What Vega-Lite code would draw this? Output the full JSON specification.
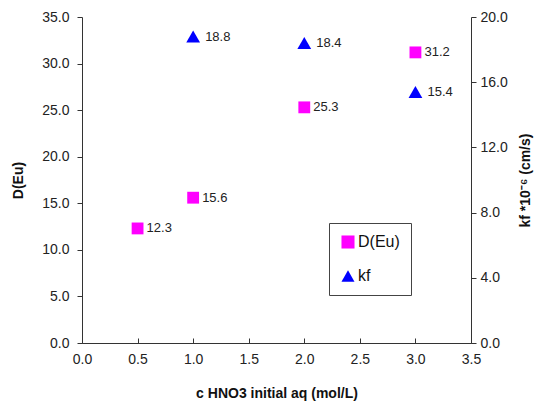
{
  "$schema": "https://vega.github.io/schema/vega-lite/v6.json",
  "width": 389,
  "height": 326,
  "autosize": "none",
  "padding": {"left": 82, "top": 17, "right": 69, "bottom": 62},
  "background": "white",
  "config": {
    "view": {"stroke": null},
    "font": "Liberation Sans",
    "axis": {"grid": false, "domainColor": "#333", "tickColor": "#333", "labelColor": "#222", "labelFontSize": 14, "titleFontSize": 14, "titleFontWeight": "bold", "titleColor": "#111", "labelFont": "Liberation Sans", "titleFont": "Liberation Sans"}
  },
  "data": {
    "values": [
      {"c": 0.5, "value": 12.3, "series": "D(Eu)"},
      {"c": 1.0, "value": 15.6, "series": "D(Eu)"},
      {"c": 2.0, "value": 25.3, "series": "D(Eu)"},
      {"c": 3.0, "value": 31.2, "series": "D(Eu)"},
      {"c": 1.0, "value": 18.8, "series": "kf"},
      {"c": 2.0, "value": 18.4, "series": "kf"},
      {"c": 3.0, "value": 15.4, "series": "kf"}
    ]
  },
  "encoding": {
    "x": {"field": "c", "type": "quantitative", "scale": {"domain": [0, 3.5], "nice": false, "zero": false},
      "axis": {"title": "c HNO3 initial aq (mol/L)", "values": [0, 0.5, 1, 1.5, 2, 2.5, 3, 3.5], "format": ".1f", "tickSize": -5, "labelPadding": 14, "titlePadding": 20, "labelFlush": false}}
  },
  "layer": [
    {
      "transform": [{"filter": "datum.series == 'D(Eu)'"}],
      "encoding": {
        "y": {"field": "value", "type": "quantitative", "scale": {"domain": [0, 35], "nice": false},
          "axis": {"orient": "left", "title": "D(Eu)", "values": [0, 5, 10, 15, 20, 25, 30, 35], "format": ".1f", "tickSize": 5, "labelPadding": 8, "titlePadding": 16}}
      },
      "layer": [
        {"mark": {"type": "point", "filled": true, "opacity": 1, "size": 140},
          "encoding": {
            "color": {"field": "series", "type": "nominal", "scale": {"domain": ["D(Eu)", "kf"], "range": ["#FF00FF", "#0000FF"]},
              "legend": {"title": null, "orient": "none", "legendX": 247, "legendY": 206, "strokeColor": "#444", "padding": 11, "labelFontSize": 16, "labelColor": "#111", "symbolSize": 170, "rowPadding": 18, "labelOffset": 2, "symbolOpacity": 1}},
            "shape": {"field": "series", "type": "nominal", "scale": {"domain": ["D(Eu)", "kf"], "range": ["square", "triangle-up"]}, "legend": null}
          }},
        {"mark": {"type": "text", "align": "left", "dx": 9, "fontSize": 13, "color": "#222"},
          "encoding": {"text": {"field": "value", "type": "quantitative", "format": ".1f"}}}
      ]
    },
    {
      "transform": [{"filter": "datum.series == 'kf'"}],
      "encoding": {
        "y": {"field": "value", "type": "quantitative", "scale": {"domain": [0, 20], "nice": false},
          "axis": {"orient": "right", "title": "kf *10⁻⁶ (cm/s)", "values": [0, 4, 8, 12, 16, 20], "format": ".1f", "tickSize": 5, "labelPadding": 4, "titlePadding": 25, "titleAngle": 270, "titleBaseline": "bottom"}}
      },
      "layer": [
        {"mark": {"type": "point", "filled": true, "opacity": 1, "size": 190},
          "encoding": {
            "color": {"field": "series", "type": "nominal", "scale": {"domain": ["D(Eu)", "kf"], "range": ["#FF00FF", "#0000FF"]}},
            "shape": {"field": "series", "type": "nominal", "scale": {"domain": ["D(Eu)", "kf"], "range": ["square", "triangle-up"]}, "legend": null}
          }},
        {"mark": {"type": "text", "align": "left", "dx": 12, "fontSize": 13, "color": "#222"},
          "encoding": {"text": {"field": "value", "type": "quantitative", "format": ".1f"}}}
      ]
    }
  ],
  "resolve": {"scale": {"y": "independent"}}
}
